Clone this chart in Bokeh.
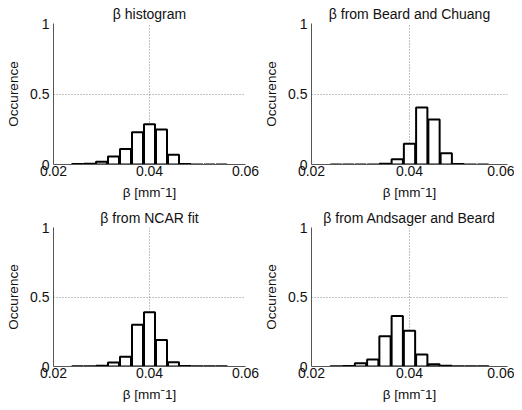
from bokeh.plotting import figure
from bokeh.layouts import gridplot
from bokeh.models import FixedTicker, Range1d
from bokeh.embed import file_html
from bokeh.resources import INLINE

bin_centers = [0.025, 0.0275, 0.030, 0.0325, 0.035, 0.0375, 0.040, 0.0425, 0.045, 0.0475, 0.050, 0.0525, 0.055]
hist_beta = [0.003, 0.005, 0.02, 0.057, 0.11, 0.229, 0.286, 0.248, 0.069, 0.003, 0.0, 0.0, 0.0]
beard_chuang = [0.0, 0.0, 0.0, 0.0, 0.005, 0.038, 0.147, 0.404, 0.32, 0.079, 0.003, 0.0, 0.0]
ncar_fit = [0.001, 0.002, 0.005, 0.029, 0.071, 0.30, 0.39, 0.19, 0.031, 0.004, 0.001, 0.001, 0.001]
andsager_beard = [0.001, 0.003, 0.024, 0.05, 0.217, 0.364, 0.257, 0.086, 0.017, 0.005, 0.002, 0.001, 0.001]

titles = ["\u03b2 histogram", "\u03b2 from Beard and Chuang", "\u03b2 from NCAR fit", "\u03b2 from Andsager and Beard"]
series = [hist_beta, beard_chuang, ncar_fit, andsager_beard]
x_ticks = [0.02, 0.04, 0.06]
x_tick_labels = {0.02: "0.02", 0.04: "0.04", 0.06: "0.06"}
y_ticks = [0, 0.5, 1]
y_tick_labels = {0: "0", 0.5: "0.5", 1: "1"}
x_label = "\u03b2 [mm\u02c91]"
y_label = "Occurence"

FONT = "Liberation Sans"

def make(i):
    left_col = (i % 2 == 0)
    top_row = (i < 2)
    fw = 192 if left_col else 196
    fh = 141 if top_row else 139
    p = figure(frame_width=fw, frame_height=fh, output_backend="svg", toolbar_location=None,
               x_range=Range1d(0.02, 0.06), y_range=Range1d(0, 1),
               min_border_left=53 if left_col else 50,
               min_border_right=16 if left_col else 7,
               min_border_top=23 if top_row else 24,
               min_border_bottom=39 if top_row else 36,
               title=titles[i])
    p.title.align = "center"
    p.title.text_font = FONT
    p.title.text_font_size = "14px"
    p.title.text_font_style = "normal"
    p.title.text_color = "#111111"
    p.title.standoff = 3
    p.title.offset = 0
    p.outline_line_color = None
    p.background_fill_color = "white"
    p.border_fill_color = "white"
    p.vbar(x=bin_centers, top=series[i], width=0.0023, bottom=0,
           fill_color="white", line_color="black", line_width=2)
    for ax in (p.xaxis[0], p.yaxis[0]):
        ax.major_tick_in = 0
        ax.major_tick_out = 0
        ax.minor_tick_in = 0
        ax.minor_tick_out = 0
        ax.axis_line_color = "#555555"
        ax.axis_line_width = 1
        ax.major_label_text_font = FONT
        ax.major_label_text_font_size = "14px"
        ax.major_label_text_color = "#111111"
        ax.axis_label_text_font = FONT
        ax.axis_label_text_font_size = "13.5px"
        ax.axis_label_text_font_style = "normal"
        ax.axis_label_text_color = "#111111"
    p.xaxis.ticker = FixedTicker(ticks=x_ticks)
    p.xaxis.major_label_overrides = x_tick_labels
    p.yaxis.ticker = FixedTicker(ticks=y_ticks)
    p.yaxis.major_label_overrides = y_tick_labels
    p.xaxis.axis_label = x_label
    p.yaxis.axis_label = y_label
    p.xaxis.major_label_standoff = 1
    p.xaxis.axis_label_standoff = 6
    p.yaxis.major_label_standoff = 4
    p.yaxis.axis_label_standoff = 6
    p.xgrid.ticker = FixedTicker(ticks=x_ticks)
    p.ygrid.ticker = FixedTicker(ticks=y_ticks)
    for g in (p.xgrid[0], p.ygrid[0]):
        g.grid_line_color = "#888888"
        g.grid_line_dash = "1 2"
        g.grid_line_width = 1
    return p

figs = [make(i) for i in range(4)]
grid = gridplot([[figs[0], figs[1]], [figs[2], figs[3]]], toolbar_location=None)

open("out.html", "w").write(file_html(grid, INLINE))
